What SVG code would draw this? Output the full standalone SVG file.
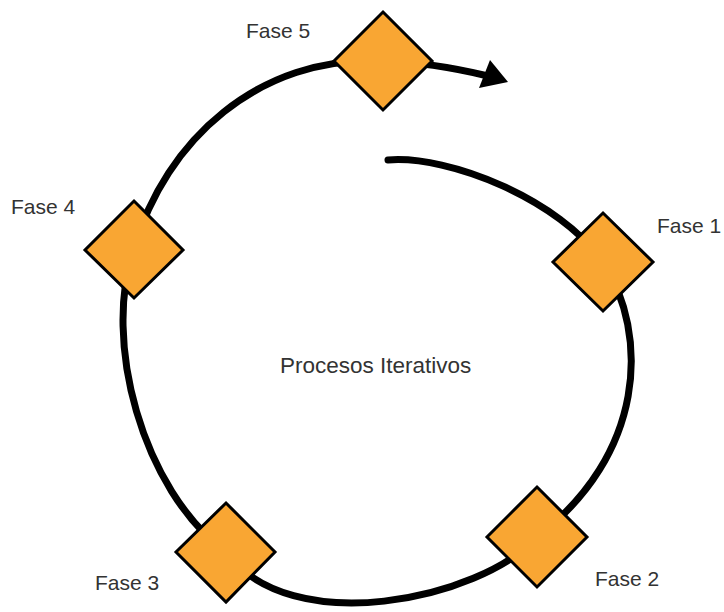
<svg xmlns="http://www.w3.org/2000/svg" width="724" height="612" viewBox="0 0 724 612">
<style>
.lbl{font-family:"Liberation Sans",Arial,sans-serif;font-size:21px;fill:#333}
.dia{fill:#F9A633;stroke:#000;stroke-width:3;stroke-linejoin:miter}
.conn{fill:none;stroke:#000;stroke-width:7;stroke-linecap:round}
</style>
<rect width="724" height="612" fill="#fff"/>
<g id="connectors">
<path class="conn" d="M388 160 C450 155 560 200 603 262 C650 335 645 455 537 537 C480 600 290 640 226 552 C142 490 102 340 134 249 C165 140 260 55 382 61 C420 62 455 68 488 76"/>
<polygon points="490,60 508,82 479,88" fill="#000"/>
</g>
<g id="fase1"><polygon class="dia" points="603,213 653,262 603,311 553,262"/><text class="lbl" x="657" y="233">Fase 1</text></g>
<g id="fase2"><polygon class="dia" points="537,487 587,537 537,587 487,537"/><text class="lbl" x="595" y="586">Fase 2</text></g>
<g id="fase3"><polygon class="dia" points="226,503 275,552 226,602 176,552"/><text class="lbl" x="95" y="590">Fase 3</text></g>
<g id="fase4"><polygon class="dia" points="134,201 183,250 134,298 85,250"/><text class="lbl" x="11" y="214">Fase 4</text></g>
<g id="fase5"><polygon class="dia" points="383,12 432,61 383,110 334,61"/><text class="lbl" x="246" y="38">Fase 5</text></g>
<g id="center"><text class="lbl" x="280" y="373" style="font-size:22.5px">Procesos Iterativos</text></g>
</svg>
